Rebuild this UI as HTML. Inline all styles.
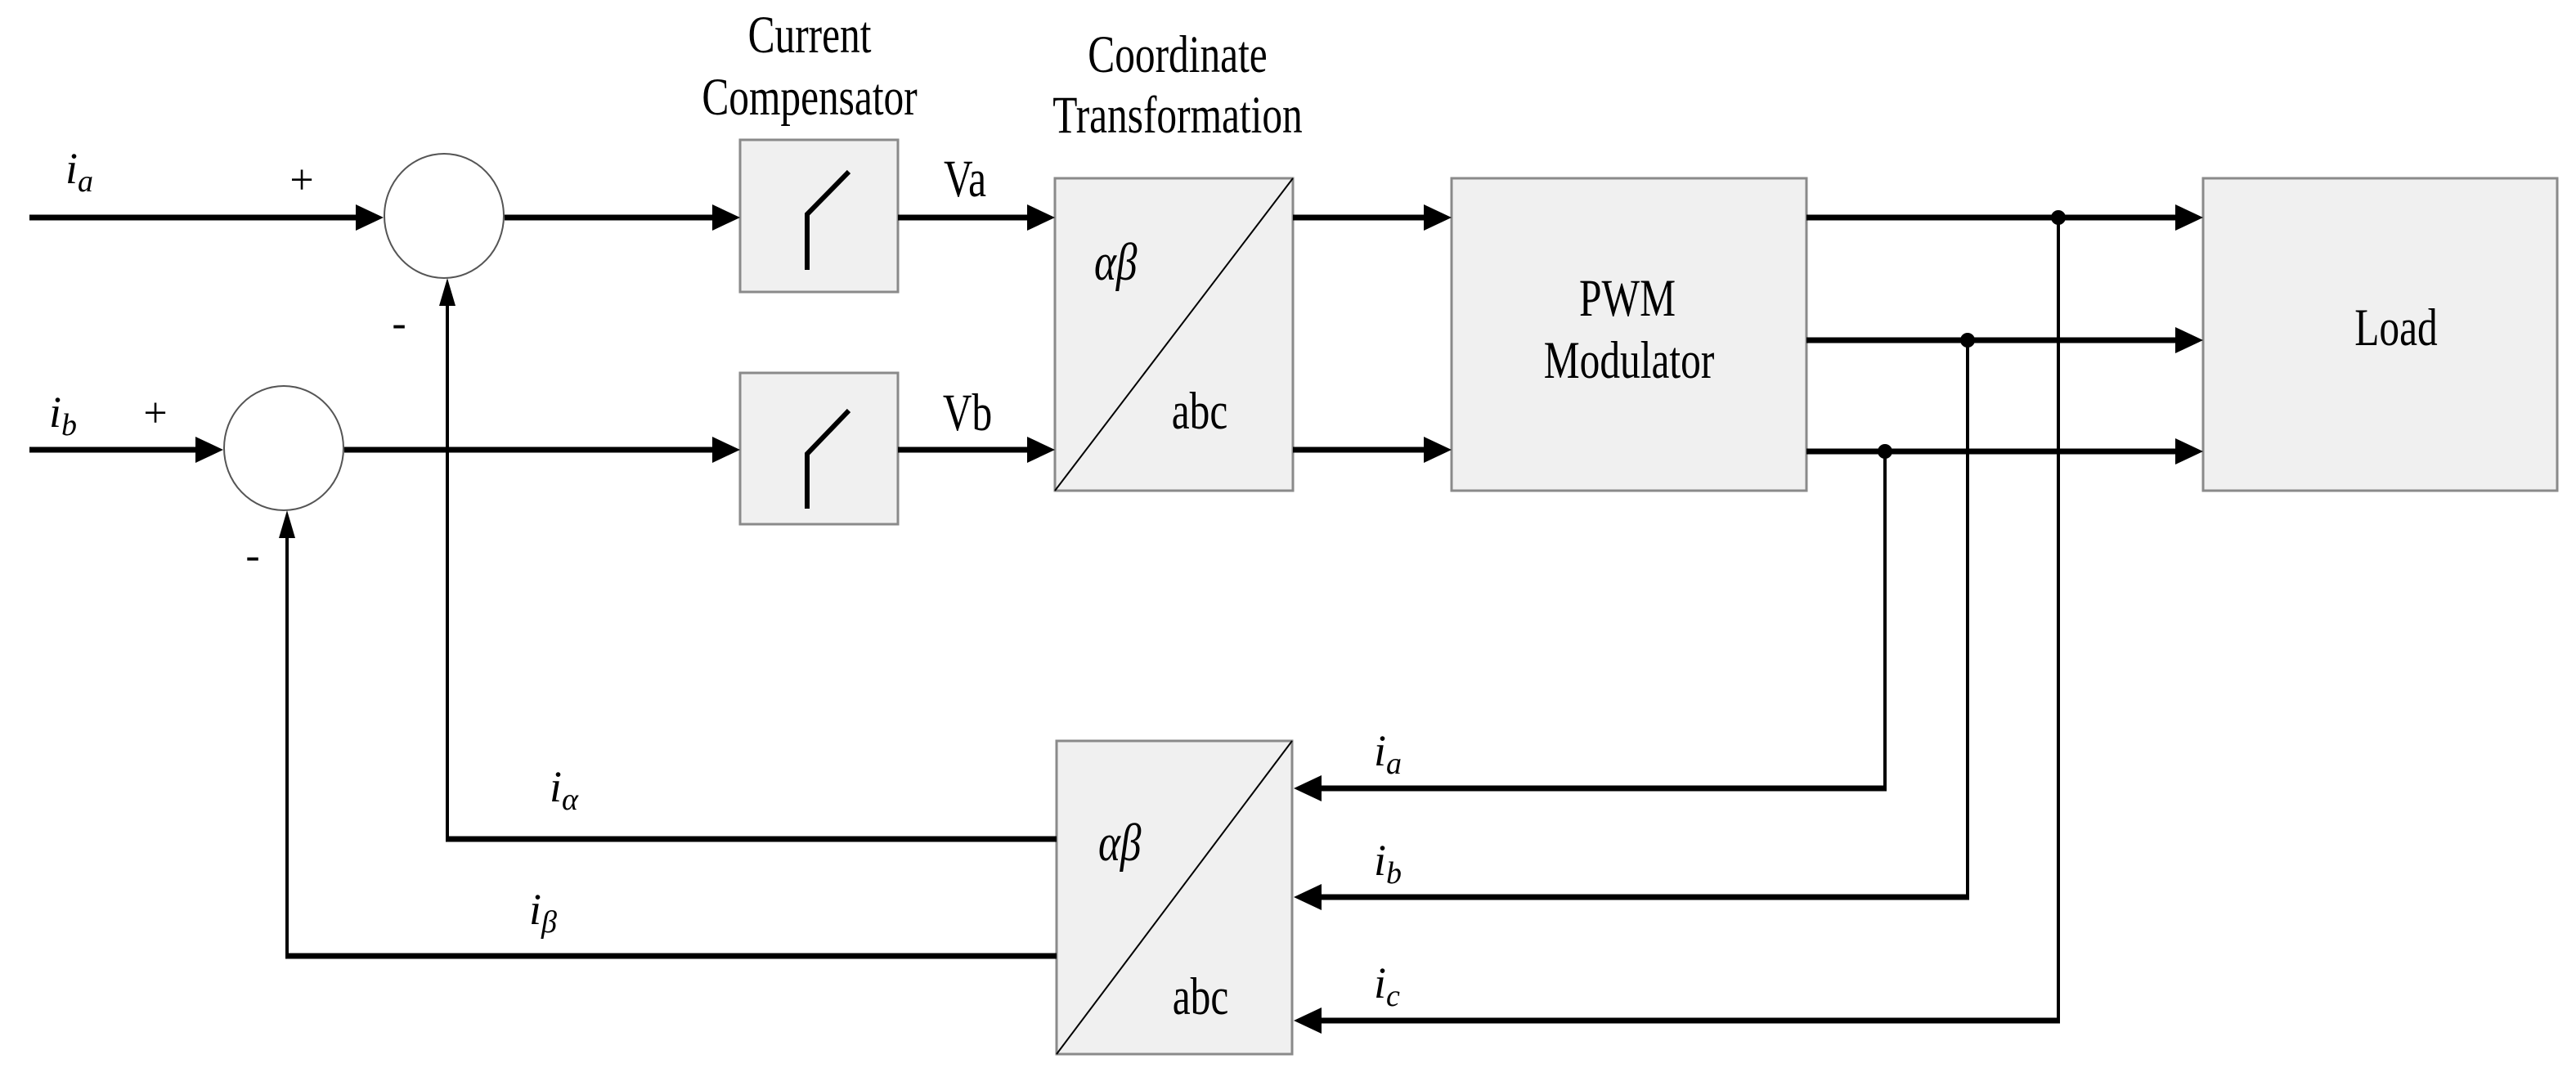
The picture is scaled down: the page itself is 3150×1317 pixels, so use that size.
<!DOCTYPE html>
<html><head><meta charset="utf-8"><style>
html,body{margin:0;padding:0;background:#fff;}
svg{display:block;}
text{font-family:"Liberation Serif",serif;fill:#000;}
.it{font-style:italic;}
</style></head><body>
<svg width="3150" height="1317" viewBox="0 0 3150 1317" xmlns="http://www.w3.org/2000/svg">
<g fill="#f0f0f0" stroke="#8a8a8a" stroke-width="3">
<rect x="905" y="171" width="193" height="186"/>
<rect x="905" y="456" width="193" height="185"/>
<rect x="1290" y="218" width="291" height="382"/>
<rect x="1775" y="218" width="434" height="382"/>
<rect x="2694" y="218" width="433" height="382"/>
<rect x="1292" y="906" width="288" height="383"/>
</g>
<g stroke="#000" stroke-width="2" fill="none">
<line x1="1290" y1="600" x2="1581" y2="218"/>
<line x1="1292" y1="1289" x2="1580" y2="906"/>
</g>
<g stroke="#555" stroke-width="2" fill="#fff">
<ellipse cx="543" cy="264" rx="73" ry="76"/>
<ellipse cx="347" cy="548" rx="73" ry="76"/>
</g>
<g stroke="#000" stroke-width="6" fill="none">
<polyline points="1038,210 987,262 987,330"/>
<polyline points="1038,502 987,555 987,622"/>
</g>
<g stroke="#000" stroke-width="7" fill="none">
<line x1="36" y1="266" x2="440" y2="266"/>
<line x1="617" y1="266" x2="875" y2="266"/>
<line x1="1098" y1="266" x2="1262" y2="266"/>
<line x1="1581" y1="266" x2="1747" y2="266"/>
<line x1="36" y1="550" x2="245" y2="550"/>
<line x1="421" y1="550" x2="875" y2="550"/>
<line x1="1098" y1="550" x2="1262" y2="550"/>
<line x1="1581" y1="550" x2="1747" y2="550"/>
<line x1="2209" y1="266" x2="2666" y2="266"/>
<line x1="2209" y1="416" x2="2666" y2="416"/>
<line x1="2209" y1="552" x2="2666" y2="552"/>
<polyline points="545,1026 1292,1026"/>
<polyline points="349,1169 1292,1169"/>
<line x1="1612" y1="964" x2="2307" y2="964"/>
<line x1="1612" y1="1097" x2="2408" y2="1097"/>
<line x1="1612" y1="1248" x2="2519" y2="1248"/>
</g>
<g stroke="#000" stroke-width="4" fill="none">
<polyline points="547,1029 547,360"/>
<polyline points="351,1172 351,645"/>
<line x1="2305" y1="552" x2="2305" y2="967"/>
<line x1="2406" y1="416" x2="2406" y2="1100"/>
<line x1="2517" y1="266" x2="2517" y2="1251"/>
</g>
<g fill="#000">
<polygon points="469,266 435,250 435,282"/>
<polygon points="905,266 871,250 871,282"/>
<polygon points="1290,266 1256,250 1256,282"/>
<polygon points="1775,266 1741,250 1741,282"/>
<polygon points="273,550 239,534 239,566"/>
<polygon points="905,550 871,534 871,566"/>
<polygon points="1290,550 1256,534 1256,566"/>
<polygon points="1775,550 1741,534 1741,566"/>
<polygon points="2694,266 2660,250 2660,282"/>
<polygon points="2694,416 2660,400 2660,432"/>
<polygon points="2694,552 2660,536 2660,568"/>
<polygon points="1582,964 1616,948 1616,980"/>
<polygon points="1582,1097 1616,1081 1616,1113"/>
<polygon points="1582,1248 1616,1232 1616,1264"/>
<polygon points="547,340 537,374 557,374"/>
<polygon points="351,624 341,658 361,658"/>
<circle cx="2517" cy="266" r="9"/>
<circle cx="2406" cy="416" r="9"/>
<circle cx="2305" cy="552" r="9"/>
</g>
<g font-size="52" text-anchor="middle">
<text transform="translate(990,64) scale(0.95,1.25)">Current</text>
<text transform="translate(990,140) scale(0.95,1.25)">Compensator</text>
<text transform="translate(1440,88) scale(0.95,1.25)">Coordinate</text>
<text transform="translate(1440,162) scale(0.95,1.25)">Transformation</text>
<text transform="translate(1990,386) scale(0.95,1.25)">PWM</text>
<text transform="translate(1992,462) scale(0.95,1.25)">Modulator</text>
<text transform="translate(2930,422) scale(0.95,1.25)">Load</text>
<text transform="translate(1180,240) scale(0.95,1.25)">Va</text>
<text transform="translate(1183,526) scale(0.95,1.25)">Vb</text>
<text transform="translate(1467,524) scale(0.95,1.25)">abc</text>
<text transform="translate(1468,1240) scale(0.95,1.25)">abc</text>
<text x="369" y="237">+</text>
<text x="190" y="522">+</text>
<text x="488" y="412">-</text>
<text x="309" y="696">-</text>
</g>
<g font-size="54" class="it">
<text transform="translate(1338,342) scale(0.95,1.2)">αβ</text>
<text transform="translate(1343,1052) scale(0.95,1.2)">αβ</text>
<text x="80" y="224">i<tspan font-size="38" dy="10">a</tspan></text>
<text x="60" y="522">i<tspan font-size="38" dy="10">b</tspan></text>
<text x="672" y="980">i<tspan font-size="38" dy="10">α</tspan></text>
<text x="647" y="1130">i<tspan font-size="38" dy="10">β</tspan></text>
<text x="1680" y="936">i<tspan font-size="38" dy="10">a</tspan></text>
<text x="1680" y="1070">i<tspan font-size="38" dy="10">b</tspan></text>
<text x="1680" y="1220">i<tspan font-size="38" dy="10">c</tspan></text>
</g>
</svg>
</body></html>
